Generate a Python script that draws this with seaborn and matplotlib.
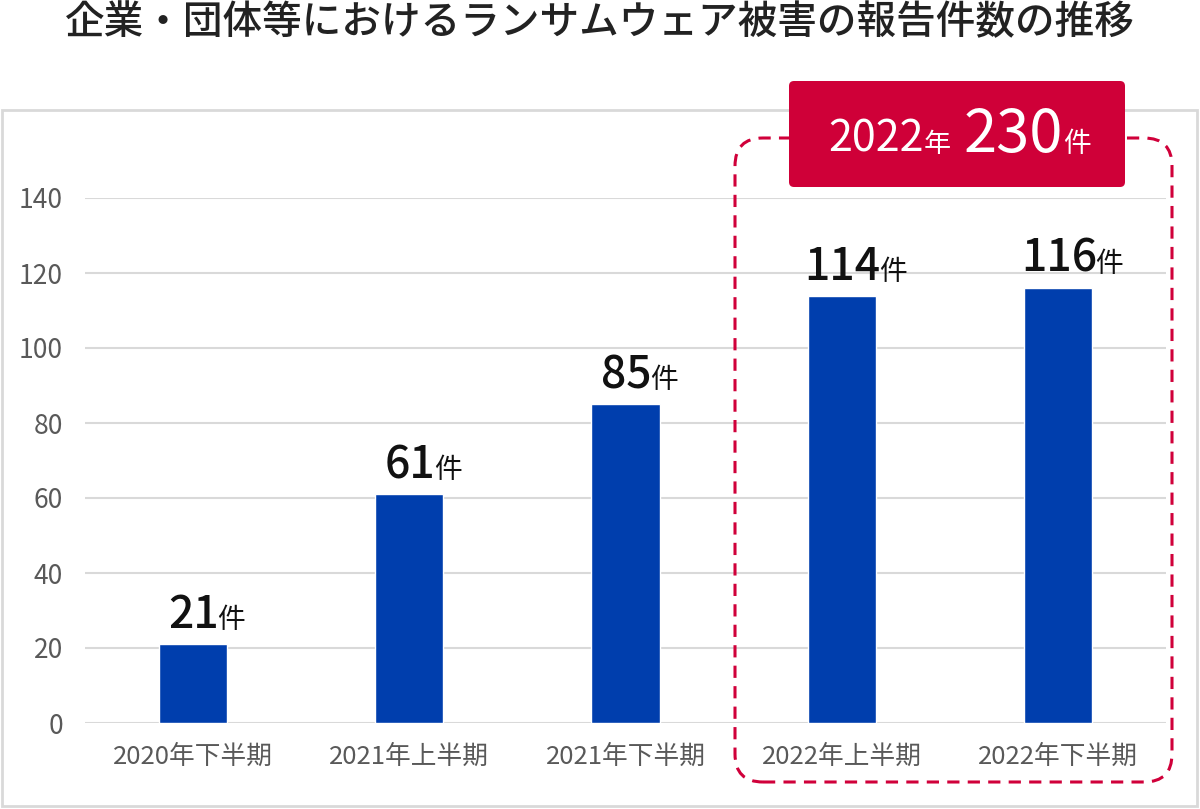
import matplotlib
matplotlib.use('Agg')
import matplotlib.pyplot as plt
import seaborn as sns
from matplotlib.patches import FancyBboxPatch, Rectangle
from matplotlib.transforms import IdentityTransform

# ---- data ----
categories = ['2020年下半期', '2021年上半期', '2021年下半期', '2022年上半期', '2022年下半期']
values = [21, 61, 85, 114, 116]
unit = '件'
yticks = [0, 20, 40, 60, 80, 100, 120, 140]
title = '企業・団体等におけるランサムウェア被害の報告件数の推移'
callout_year = '2022年'
callout_total = '230'

W, H = 1200, 809
sns.set_theme(style='white')
plt.rcParams['font.family'] = ['Noto Sans CJK JP', 'DejaVu Sans']

fig = plt.figure(figsize=(W / 100, H / 100), dpi=100)
fig.patch.set_facecolor('white')
ax = fig.add_axes([85 / W, (H - 723) / H, 1081 / W, 525 / H])
sns.barplot(x=categories, y=values, color='#003EAD', saturation=1, width=0.315, ax=ax)
ax.set_ylim(0, 140)
ax.set_xlim(-0.5, 4.5)
ax.set_yticks(yticks)
ax.yaxis.grid(True, color='#D9D9D9', lw=1.5)
ax.xaxis.grid(False)
ax.set_axisbelow(True)
for s in ax.spines.values():
    s.set_visible(False)
ax.tick_params(axis='y', length=0, pad=16, labelsize=19, labelcolor='#595959')
ax.tick_params(axis='x', length=0, pad=15, labelsize=18.5, labelcolor='#595959')
ax.set_xlabel('')
ax.set_ylabel('')
ax.patch.set_alpha(0)

ident = IdentityTransform()

# outer light-gray frame
fig.add_artist(Rectangle((2, H - 806), 1195, 696, transform=ident, fill=False,
                         ec='#D9D9D9', lw=2, zorder=1))

# dashed rounded highlight box
fig.add_artist(FancyBboxPatch((735, H - 782), 437, 644,
                              boxstyle='round,pad=0,rounding_size=28', transform=ident,
                              fill=False, ec='#D0003A', lw=2.2, ls=(0, (4, 2.7)), zorder=2))

# red callout box
fig.add_artist(FancyBboxPatch((789, H - 187), 336, 106,
                              boxstyle='round,pad=0,rounding_size=5', transform=ident,
                              fc='#CF0038', ec='none', zorder=5))

# title
fig.text(0.5, 1 - 23 / H, title, ha='center', va='center', fontsize=28.5,
         fontweight='medium', color='#222222')

fig.canvas.draw()
renderer = fig.canvas.get_renderer()

# value labels
for i, v in enumerate(values):
    px, py = ax.transData.transform((i, v))
    t = fig.text(px + 1, py + 16, str(v), transform=ident, ha='center', va='baseline',
                 fontsize=32, fontweight='medium', color='#111111', zorder=6)
    bb = t.get_window_extent(renderer)
    fig.text(bb.x1 - 2, py + 16, unit, transform=ident, ha='left', va='baseline',
             fontsize=20, color='#111111', zorder=6)

# callout text
segs = [(callout_year[:-1], 31, 0), (callout_year[-1], 19.5, 13),
        (callout_total, 43, 0), (unit, 20, 0)]
x = 828
for s, size, gap in segs:
    t = fig.text(x, H - 152, s, transform=ident, ha='left', va='baseline',
                 fontsize=size, color='white', zorder=6)
    bb = t.get_window_extent(renderer)
    x = bb.x1 + gap

fig.savefig('out.png', dpi=100)
